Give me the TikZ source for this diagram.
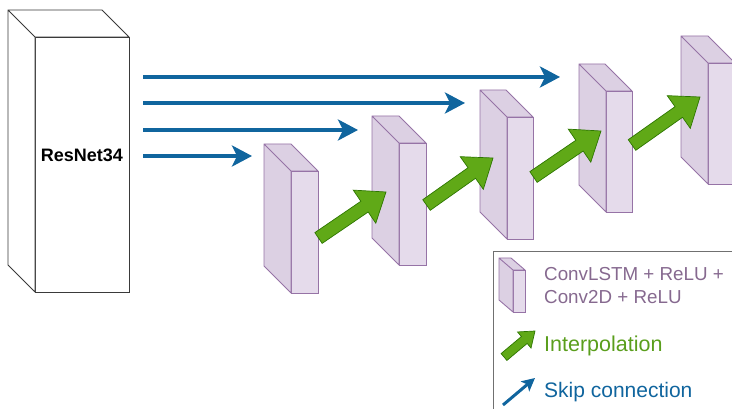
\documentclass[tikz,border=0pt]{standalone}
\usepackage{fontspec}
\setmainfont{Liberation Sans}
\usetikzlibrary{calc,arrows.meta}
\definecolor{pfront}{HTML}{E5DBEB}
\definecolor{pside}{HTML}{D0C3DA}
\definecolor{ptop}{HTML}{DCD0E3}
\definecolor{pstroke}{HTML}{9673A6}
\definecolor{ptext}{HTML}{86698F}
\definecolor{gfill}{HTML}{60A917}
\definecolor{gstroke}{HTML}{2D7600}
\definecolor{gtext}{HTML}{5A9E1C}
\definecolor{bline}{HTML}{10659E}
\definecolor{rnstroke}{HTML}{3A3A3A}
\definecolor{rnside}{HTML}{E8E8E8}
\definecolor{legline}{HTML}{707070}
\tikzset{
  front/.style={draw=pstroke, fill=pfront, line width=0.9pt, inner sep=0pt, outer sep=0pt, anchor=north west},
  face/.style={draw=pstroke, line width=0.9pt, line join=round},
  garrowstyle/.style={fill=gfill, draw=gstroke, line width=0.7pt, line join=miter},
  skip/.style={draw=bline, line width=3.2pt, -{Stealth[length=20pt,width=21pt,inset=5pt]}},
}
% cube: name, dx, dy (depth offset)
\newcommand\cubefaces[3]{%
  \path let \p1=(#1.north west), \p2=(#1.south west), \p3=(#1.north east) in
    [face, fill=pside] (\p1) -- ++(-#2,-#3) -- ($(\p2)+(-#2,-#3)$) -- (\p2) -- cycle
    [face, fill=ptop] (\p1) -- ++(-#2,-#3) -- ($(\p3)+(-#2,-#3)$) -- (\p3) -- cycle;
}
% block arrow: start, tip, shaft half width, head half width, head length
\newcommand\blkarrow[5]{%
  \coordinate (hb) at ($(#2)!#5!(#1)$);
  \filldraw[garrowstyle] ($(#1)!#3!90:(#2)$) -- ($(hb)!#3!-90:(#1)$) -- ($(hb)!#4!-90:(#1)$) -- (#2)
    -- ($(hb)!#4!90:(#1)$) -- ($(hb)!#3!90:(#1)$) -- ($(#1)!#3!-90:(#2)$) -- cycle;
}
\begin{document}
\begin{tikzpicture}[x=1pt,y=-1pt]
\useasboundingbox (0,0) rectangle (732,409);
\clip (0,0) rectangle (732,409);

% ResNet34 block
\node[draw=rnstroke, fill=white, line width=0.9pt, inner sep=0pt, outer sep=0pt, anchor=north west,
      minimum width=94pt, minimum height=255pt] (rn) at (35,37) {};
\path let \p1=(rn.north west), \p2=(rn.south west), \p3=(rn.north east) in
  [draw=rnstroke, line width=0.9pt, line join=round, fill=rnside] (\p1) -- ++(-27,-27) -- ($(\p2)+(-27,-27)$) -- (\p2) -- cycle
  [draw=rnstroke, line width=0.9pt, line join=round, fill=white] (\p1) -- ++(-27,-27) -- ($(\p3)+(-27,-27)$) -- (\p3) -- cycle;
\node[font=\bfseries\fontsize{18}{21}\selectfont, inner sep=0pt, anchor=base] (rnlbl) at (82,162) {ResNet34};

% skip connections
\coordinate (s1) at (143,77);  \coordinate (t1) at (560,77);
\coordinate (s2) at (143,103); \coordinate (t2) at (465,103);
\coordinate (s3) at (143,130); \coordinate (t3) at (358,130);
\coordinate (s4) at (143,156); \coordinate (t4) at (252,156);
\draw[skip] (s1) -- (t1);
\draw[skip] (s2) -- (t2);
\draw[skip] (s3) -- (t3);
\draw[skip] (s4) -- (t4);

% decoder blocks
\node[front, minimum width=27pt, minimum height=122pt] (b1) at (291,171) {};
\cubefaces{b1}{27}{27}
\node[front, minimum width=27pt, minimum height=122pt] (b2) at (399,143) {};
\cubefaces{b2}{27}{27}
\node[front, minimum width=26pt, minimum height=122pt] (b3) at (507,117) {};
\cubefaces{b3}{27}{27}
\node[front, minimum width=26pt, minimum height=121pt] (b4) at (606,91) {};
\cubefaces{b4}{27}{27}
\node[front, minimum width=27pt, minimum height=121pt] (b5) at (708,63) {};
\cubefaces{b5}{27}{27}

% interpolation arrows
\coordinate (g1s) at (318.5,238); \coordinate (g1t) at (386,192);
\coordinate (g2s) at (426.5,205); \coordinate (g2t) at (493,158);
\coordinate (g3s) at (533.5,177); \coordinate (g3t) at (601,131);
\coordinate (g4s) at (632,145);   \coordinate (g4t) at (700,97);
\blkarrow{g1s}{g1t}{6.5pt}{20pt}{26pt}
\blkarrow{g2s}{g2t}{6.5pt}{20pt}{26pt}
\blkarrow{g3s}{g3t}{6.5pt}{20pt}{26pt}
\blkarrow{g4s}{g4t}{6.5pt}{20pt}{26pt}

% legend
\draw[legline, line width=1pt] (493,420) -- (493,252) -- (745,252);
\node[front, minimum width=12pt, minimum height=42pt, line width=0.8pt] (lc) at (513,270) {};
\cubefaces{lc}{14}{12}
\node[ptext, font=\fontsize{18.8}{23}\selectfont, inner sep=0pt, anchor=base west] (lt1) at (544,281) {ConvLSTM + ReLU +};
\node[ptext, font=\fontsize{18.8}{23}\selectfont, inner sep=0pt, anchor=base west] (lt2) at (544,303) {Conv2D + ReLU};
\coordinate (lgs) at (504,357); \coordinate (lgt) at (535,331);
\blkarrow{lgs}{lgt}{4.5pt}{10.5pt}{14pt}
\node[gtext, font=\fontsize{21.5}{25}\selectfont, inner sep=0pt, anchor=base west] (lt3) at (544,352) {Interpolation};
\coordinate (lbs) at (503,405); \coordinate (lbt) at (535,378);
\draw[draw=bline, line width=3pt, -{Stealth[length=13pt,width=13pt,inset=3pt]}] (lbs) -- (lbt);
\node[bline, font=\fontsize{21}{25}\selectfont, inner sep=0pt, anchor=base west] (lt4) at (544,397) {Skip connection};
\end{tikzpicture}
\end{document}
